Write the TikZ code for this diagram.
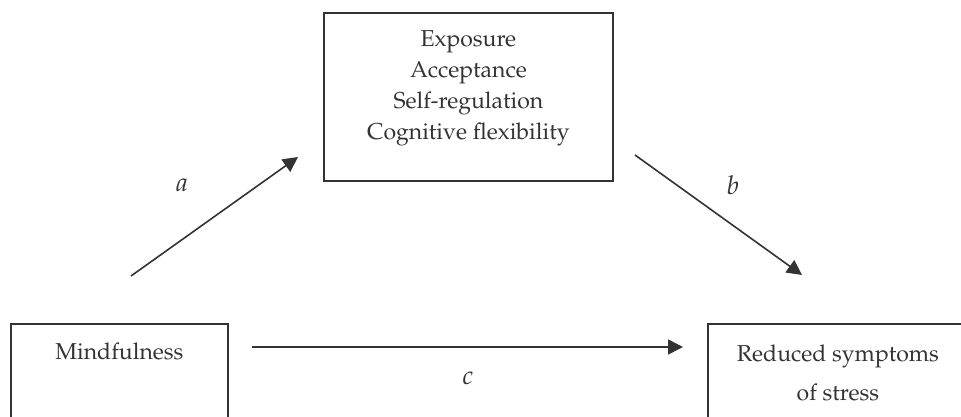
\documentclass[tikz,border=0pt]{standalone}
\usepackage[T1]{fontenc}
\usepackage{mathpazo}
\usepackage{tikz}
\usetikzlibrary{arrows.meta,positioning}
\definecolor{ink}{HTML}{333333}

\begin{document}
\begin{tikzpicture}[x=1pt, y=-1pt,
    box/.style={draw=ink, line width=1.8pt, inner sep=0pt, anchor=north west},
    txt/.style={ink, inner sep=0pt, align=center, font=\fontsize{23}{31}\selectfont},
    path/.style={-{Triangle[length=15pt,width=15pt]}, line width=1.6pt, ink},
    coef/.style={ink, inner sep=0pt, font=\fontsize{26}{31}\selectfont}]

    % Frame
    \path[use as bounding box, clip] (0,0) rectangle (961,417);

    % Boxes
    \node[box, minimum width=289pt, minimum height=168pt] (mech) at (323,12) {};
    \node[box, minimum width=217pt, minimum height=130pt] (mind) at (10,323) {};
    \node[box, minimum width=260pt, minimum height=130pt] (stress) at (707,323) {};

    % Box texts
    \node[txt, below=18pt of mech.north] (mechtxt) {Exposure\\Acceptance\\Self-regulation\\Cognitive flexibility};
    \node[txt, below=20pt of mind.north] (mindtxt) {Mindfulness};
    \node[txt, below=22pt of stress.north] (stresstxt) {Reduced symptoms\\[8pt]of stress};

    % Path ends
    \coordinate (a0) at (131,276);
    \coordinate (a1) at (298,157);
    \coordinate (b0) at (635,155);
    \coordinate (b1) at (802,275);
    \coordinate (c0) at (252,347);
    \coordinate (c1) at (683,347);

    % Paths
    \draw[path] (a0) -- (a1);
    \draw[path] (b0) -- (b1);
    \draw[path] (c0) -- (c1);

    % Path labels
    \node[coef] (la) at (182,185) {$a$};
    \node[coef] (lb) at (733,185) {$b$};
    \node[coef] (lc) at (468,378) {$c$};

\end{tikzpicture}
\end{document}
